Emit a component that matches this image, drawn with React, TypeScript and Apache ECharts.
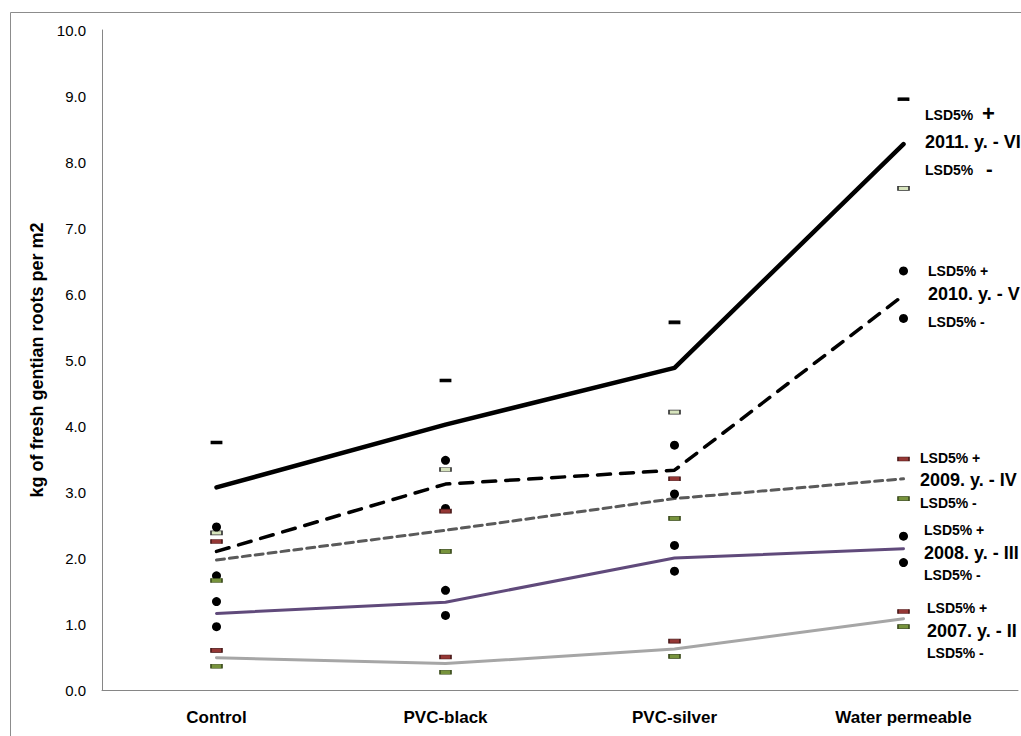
import React, { useEffect, useRef } from "react";
import * as echarts from "echarts";

const categories = ["Control", "PVC-black", "PVC-silver", "Water permeable"];
const yTicks = [0, 1, 2, 3, 4, 5, 6, 7, 8, 9, 10];

const y2011 = [3.07, 4.02, 4.88, 8.27];
const y2011Up = [3.75, 4.69, 5.57, 8.95];
const y2011Low = [2.38, 3.34, 4.21, 7.6];
const y2010 = [2.1, 3.12, 3.33, 5.98];
const y2010Up = [2.47, 3.48, 3.71, 6.35];
const y2010Low = [1.73, 2.75, 2.97, 5.63];
const y2009 = [1.97, 2.42, 2.9, 3.2];
const y2009Up = [2.25, 2.71, 3.2, 3.5];
const y2009Low = [1.66, 2.1, 2.6, 2.9];
const y2008 = [1.16, 1.33, 2.0, 2.14];
const y2008Up = [1.34, 1.51, 2.19, 2.33];
const y2008Low = [0.96, 1.13, 1.8, 1.93];
const y2007 = [0.49, 0.4, 0.62, 1.08];
const y2007Up = [0.6, 0.5, 0.74, 1.19];
const y2007Low = [0.36, 0.27, 0.51, 0.96];

const seriesLabels = [
  { name: "2011. y. - VI", plusY: 115, nameY: 142, minusY: 170, x: 925, big: true },
  { name: "2010. y. - V", plusY: 271, nameY: 294, minusY: 322, x: 928, big: false },
  { name: "2009. y. - IV", plusY: 458, nameY: 480, minusY: 503, x: 920, big: false },
  { name: "2008. y. - III", plusY: 530, nameY: 553, minusY: 575, x: 924, big: false },
  { name: "2007. y. - II", plusY: 608, nameY: 631, minusY: 653, x: 927, big: false },
];

const FONT = "'Liberation Sans Narrow', 'Liberation Sans', Arial, sans-serif";

export default function App() {
  const ref = useRef<HTMLDivElement>(null);
  useEffect(() => {
    if (!ref.current) return;
    const chart = echarts.init(ref.current, undefined, { renderer: "svg" });

    const line = (name: string, data: number[], color: string, width: number, type: any, z = 2) => ({
      name,
      type: "line",
      data,
      symbol: "none",
      z,
      lineStyle: { color, width, type, cap: "round" },
      silent: true,
    });
    const dash = (name: string, data: number[], fill: string, border: string, size: number[]) => ({
      name,
      type: "scatter",
      data,
      symbol: "rect",
      symbolSize: size,
      z: 5,
      itemStyle: { color: fill, borderColor: border, borderWidth: 1, opacity: 1 },
      silent: true,
    });
    const dots = (name: string, data: number[]) => ({
      name,
      type: "scatter",
      data,
      symbol: "circle",
      symbolSize: 9,
      z: 5,
      itemStyle: { color: "#000", opacity: 1 },
      silent: true,
    });

    const graphics: any[] = [
      {
        type: "rect",
        shape: { x: 10.5, y: 12.5, width: 1100, height: 800 },
        style: { fill: "none", stroke: "#8c8c8c", lineWidth: 1 },
        silent: true,
      },
    ];
    seriesLabels.forEach((s) => {
      if (s.big) {
        graphics.push({
          type: "text",
          x: s.x,
          y: s.plusY,
          style: { text: "LSD5%", font: `bold 14px ${FONT}`, fill: "#000", verticalAlign: "middle" },
        });
        graphics.push({
          type: "text",
          x: s.x + 57,
          y: s.plusY - 2,
          style: { text: "+", font: `bold 22px ${FONT}`, fill: "#000", verticalAlign: "middle" },
        });
        graphics.push({
          type: "text",
          x: s.x,
          y: s.minusY,
          style: { text: "LSD5%", font: `bold 14px ${FONT}`, fill: "#000", verticalAlign: "middle" },
        });
        graphics.push({
          type: "text",
          x: s.x + 61,
          y: s.minusY - 1,
          style: { text: "-", font: `bold 20px ${FONT}`, fill: "#000", verticalAlign: "middle" },
        });
      } else {
        graphics.push({
          type: "text",
          x: s.x,
          y: s.plusY,
          style: { text: "LSD5% +", font: `bold 14px ${FONT}`, fill: "#000", verticalAlign: "middle" },
        });
        graphics.push({
          type: "text",
          x: s.x,
          y: s.minusY,
          style: { text: "LSD5% -", font: `bold 14px ${FONT}`, fill: "#000", verticalAlign: "middle" },
        });
      }
      graphics.push({
        type: "text",
        x: s.x,
        y: s.nameY,
        style: { text: s.name, font: `bold 18px ${FONT}`, fill: "#000", verticalAlign: "middle" },
      });
    });

    chart.setOption({
      animation: false,
      backgroundColor: "#fff",
      grid: { left: 102, right: 3, top: 30, bottom: 46, containLabel: false },
      xAxis: {
        type: "category",
        data: categories,
        boundaryGap: true,
        axisLine: { show: true, lineStyle: { color: "#868686", width: 1 } },
        axisTick: { show: false },
        axisLabel: { color: "#000", fontFamily: FONT, fontWeight: "bold", fontSize: 17, margin: 19 },
        splitLine: { show: false },
      },
      yAxis: {
        type: "value",
        min: yTicks[0],
        max: yTicks[yTicks.length - 1],
        interval: 1,
        axisLine: { show: true, lineStyle: { color: "#868686", width: 1 } },
        axisTick: { show: false },
        splitLine: { show: false },
        axisLabel: {
          color: "#000",
          fontFamily: FONT,
          fontSize: 15,
          margin: 16,
          formatter: (v: number) => v.toFixed(1),
        },
        name: "kg of fresh gentian roots per m2",
        nameLocation: "middle",
        nameGap: 55,
        nameTextStyle: { color: "#000", fontFamily: FONT, fontWeight: "bold", fontSize: 18 },
      },
      graphic: graphics,
      series: [
        line("2007", y2007, "#a6a6a6", 3, "solid"),
        line("2008", y2008, "#604a7b", 3, "solid"),
        line("2009", y2009, "#5a5a5a", 3, [8, 5]),
        line("2010", y2010, "#000", 3.5, [13, 10]),
        line("2011", y2011, "#000", 4.5, "solid"),
        dash("2011 LSD+", y2011Up, "#000", "#000", [10, 3]),
        dash("2011 LSD-", y2011Low, "#d7e4bd", "#333", [11, 4]),
        dots("2010 LSD+", y2010Up),
        dots("2010 LSD-", y2010Low),
        dash("2009 LSD+", y2009Up, "#953735", "#4a1a1a", [11, 4]),
        dash("2009 LSD-", y2009Low, "#77933c", "#3d4d1e", [11, 4]),
        dots("2008 LSD+", y2008Up),
        dots("2008 LSD-", y2008Low),
        dash("2007 LSD+", y2007Up, "#953735", "#4a1a1a", [11, 4]),
        dash("2007 LSD-", y2007Low, "#77933c", "#3d4d1e", [11, 4]),
      ],
    });
    return () => chart.dispose();
  }, []);
  return (
    <div
      ref={ref}
      style={{ position: "fixed", left: 0, top: 0, width: 1021, height: 736, background: "#fff" }}
    />
  );
}
